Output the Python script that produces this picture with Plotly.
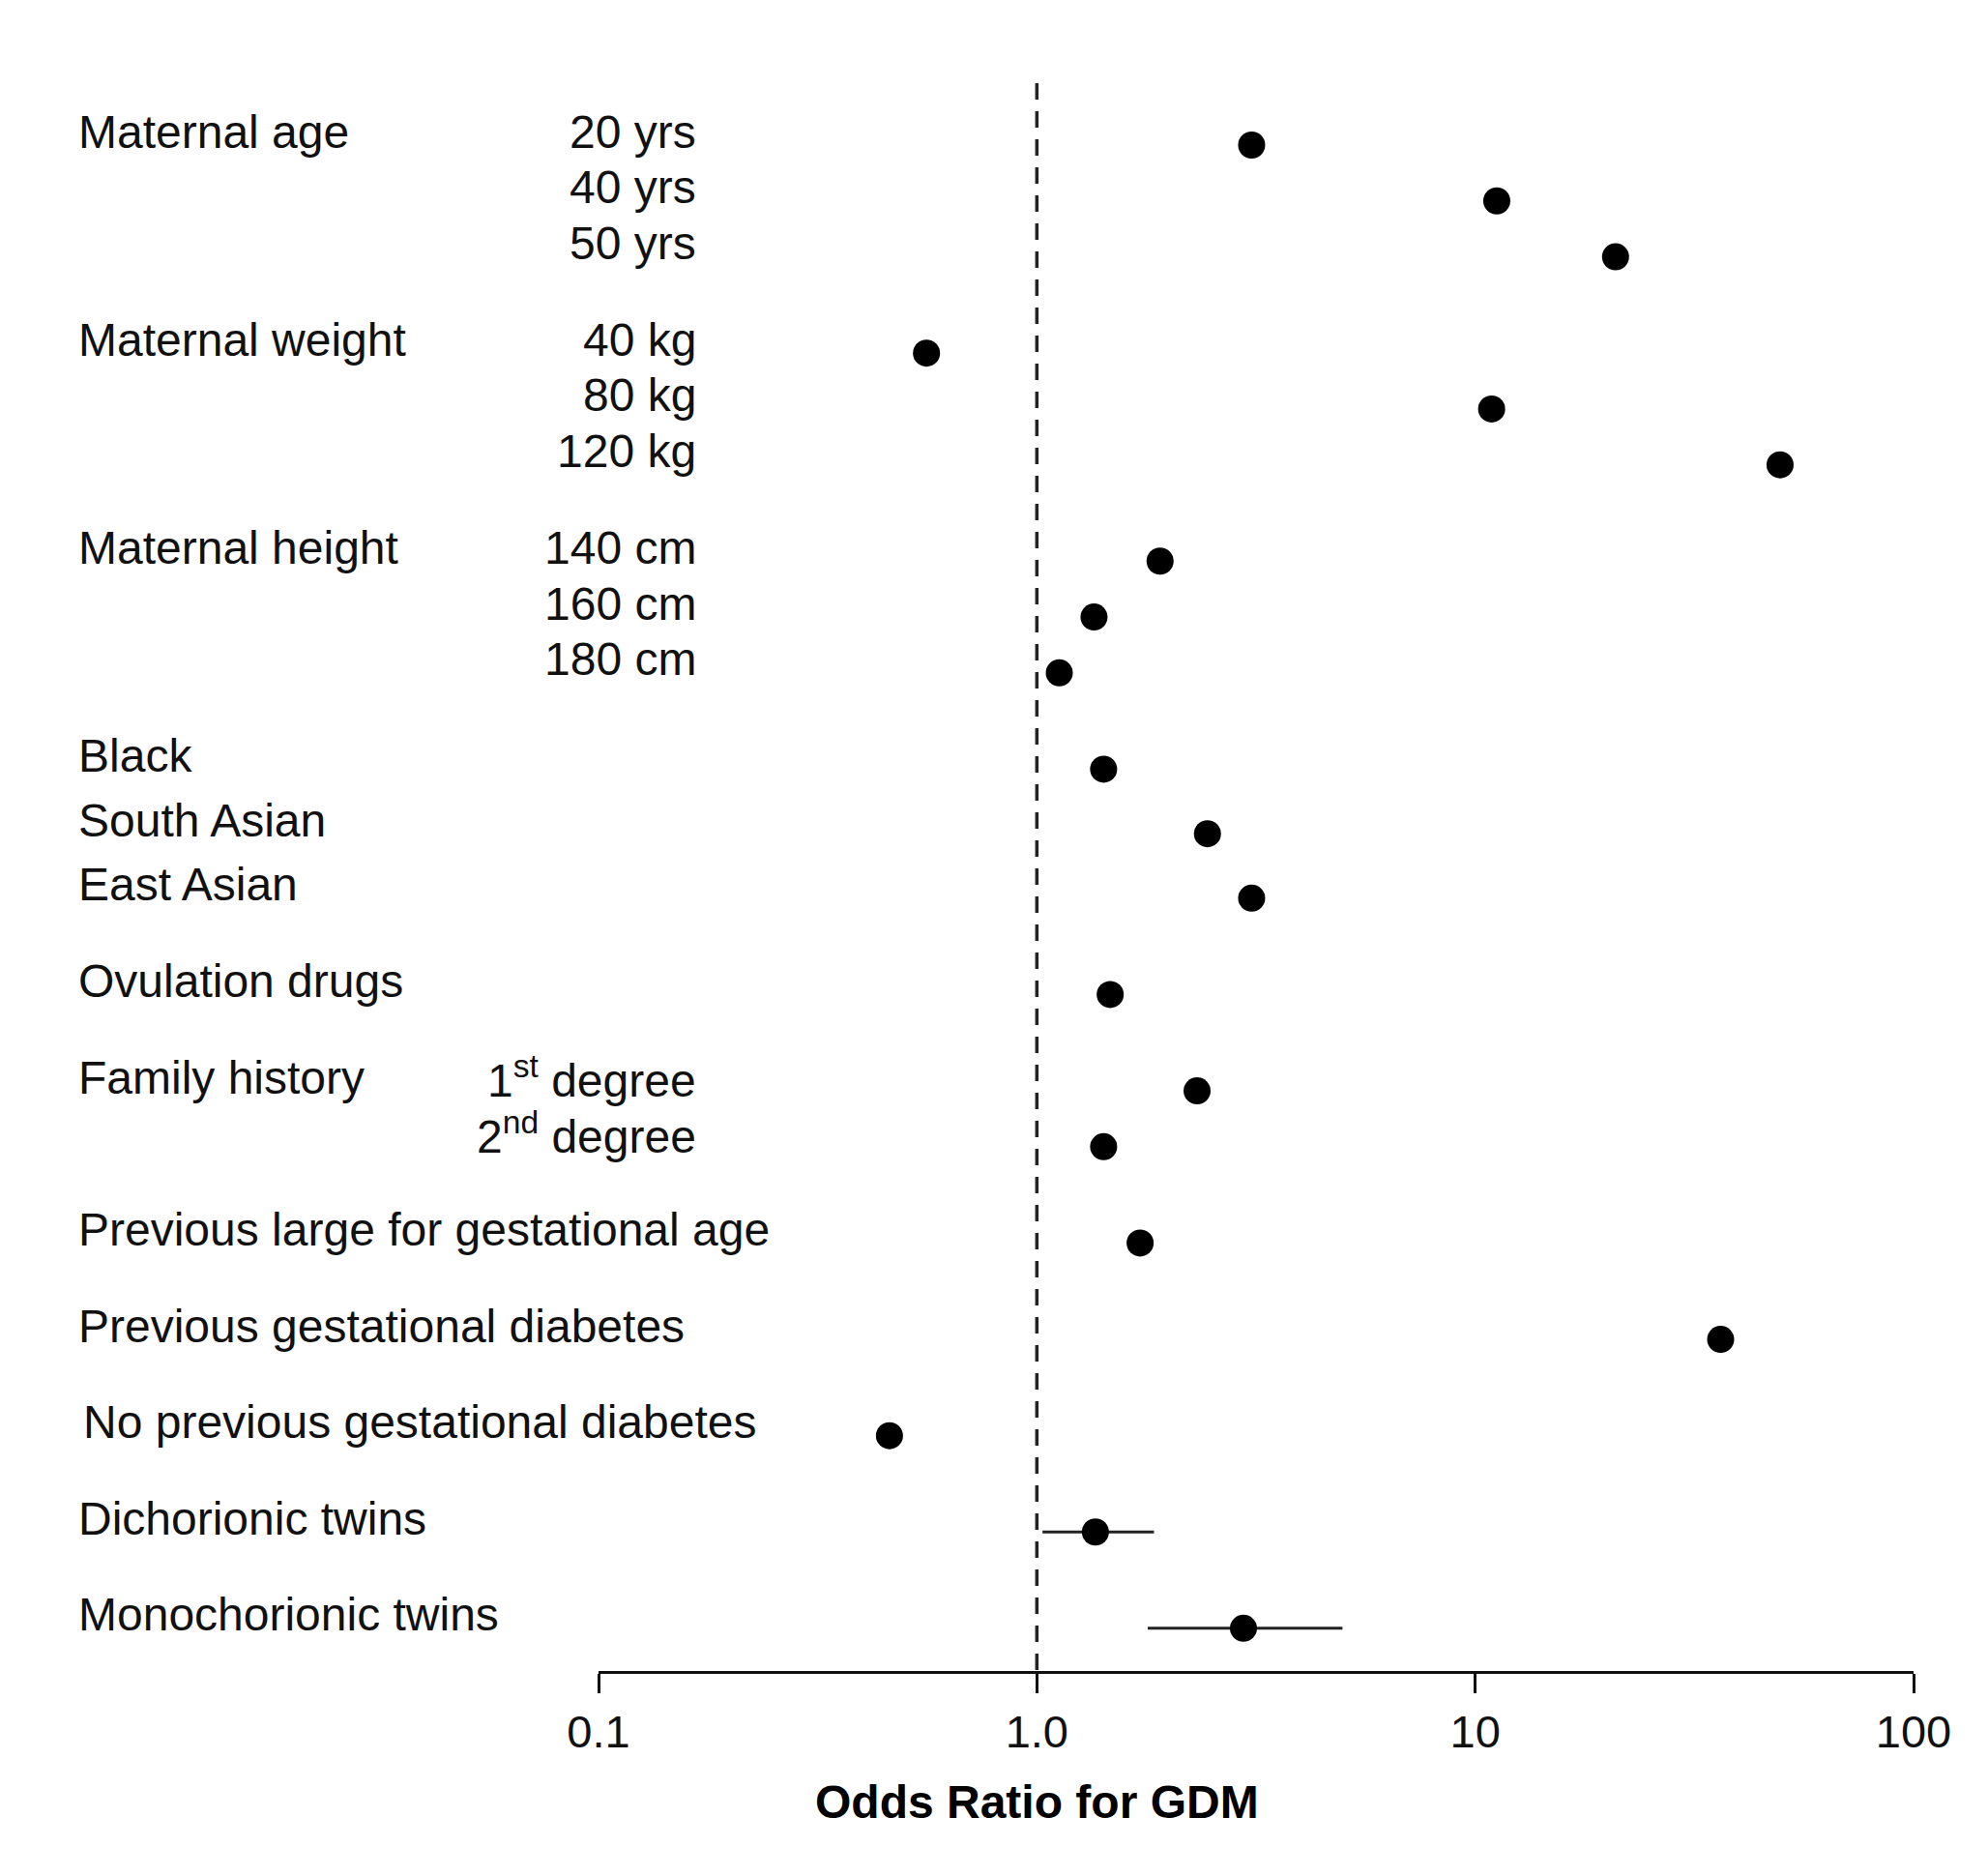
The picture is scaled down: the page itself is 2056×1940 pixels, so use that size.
import plotly.graph_objects as go

# ---------------- DATA ----------------
left_labels = [
    "Maternal age", "", "",
    "Maternal weight", "", "",
    "Maternal height", "", "",
    "Black", "South Asian", "East Asian",
    "Ovulation drugs",
    "Family history", "",
    "Previous large for gestational age",
    "Previous gestational diabetes",
    "No previous gestational diabetes",
    "Dichorionic twins",
    "Monochorionic twins",
]
sub_labels = [
    "20 yrs", "40 yrs", "50 yrs",
    "40 kg", "80 kg", "120 kg",
    "140 cm", "160 cm", "180 cm",
    "", "", "",
    "",
    "1<sup>st</sup> degree", "2<sup>nd</sup> degree",
    "", "", "", "", "",
]
group_id = [0, 0, 0, 1, 1, 1, 2, 2, 2, 3, 3, 3, 4, 5, 5, 6, 7, 8, 9, 10]
odds_ratio = [3.09, 11.2, 20.9,
              0.56, 10.9, 49.6,
              1.91, 1.35, 1.125,
              1.42, 2.45, 3.09,
              1.47,
              2.32, 1.42,
              1.72, 36.3, 0.461,
              1.36, 2.96]
ci_rows = [18, 19]
ci_low = [1.03, 1.79]
ci_high = [1.85, 4.98]

tick_vals = [0.1, 1, 10, 100]
tick_text = ["0.1", "1.0", "10", "100"]
x_title = "<b>Odds Ratio for GDM</b>"

# ---------------- LAYOUT HELPERS ----------------
W, H = 2056, 1940
BODY = 8  # page margin of the html body
PLOT_L, PLOT_R = 619, 1979
PLOT_T, PLOT_B = 86, 1728
FONT = "Liberation Sans, Arial, sans-serif"
INK = "#111111"


def px_to_paper_x(px):
    return (px - PLOT_L) / (PLOT_R - PLOT_L)


def px_to_paper_y(py):
    return (PLOT_B - py) / (PLOT_B - PLOT_T)


# row positions: new group -> 1 unit, rows inside a group closer together
y_pos = []
y = 0.0
for i, g in enumerate(group_id):
    if i > 0:
        if g != group_id[i - 1]:
            y += 1.0
        elif sub_labels[i] == "":
            y += 0.67
        else:
            y += 0.58
    y_pos.append(y)

UNIT = 99.6  # px per row unit
y_top = -(150 - PLOT_T) / UNIT
y_bottom = y_top + (PLOT_B - PLOT_T) / UNIT

fig = go.Figure()

# reference line at OR = 1
fig.add_trace(go.Scatter(
    x=[1, 1], y=[y_top, y_bottom],
    mode="lines",
    line=dict(color="#222222", width=3.5, dash="17px,12px"),
    hoverinfo="skip", showlegend=False,
))

# confidence intervals
fig.add_trace(go.Scatter(
    x=[odds_ratio[i] for i in ci_rows],
    y=[y_pos[i] for i in ci_rows],
    mode="markers",
    marker=dict(size=0.1, color=INK),
    error_x=dict(
        type="data", symmetric=False,
        array=[h - odds_ratio[i] for h, i in zip(ci_high, ci_rows)],
        arrayminus=[odds_ratio[i] - l for l, i in zip(ci_low, ci_rows)],
        width=0, thickness=3, color="#222222",
    ),
    hoverinfo="skip", showlegend=False,
))

# point estimates
fig.add_trace(go.Scatter(
    x=odds_ratio, y=y_pos,
    mode="markers",
    marker=dict(size=28, color="black", symbol="circle"),
    showlegend=False,
))

annotations = []
for lab, sub, yy in zip(left_labels, sub_labels, y_pos):
    if lab:
        x_left = 84 if lab.startswith("No ") else 79
        annotations.append(dict(
            text=lab, xref="paper", yref="y",
            x=px_to_paper_x(x_left), y=yy, yshift=14,
            xanchor="left", yanchor="middle", showarrow=False,
            font=dict(family=FONT, size=48, color=INK),
        ))
    if sub:
        annotations.append(dict(
            text=sub, xref="paper", yref="y",
            x=px_to_paper_x(722), y=yy, yshift=14,
            xanchor="right", yanchor="middle", showarrow=False,
            font=dict(family=FONT, size=48, color=INK),
        ))

annotations.append(dict(
    text=x_title, xref="x", yref="paper",
    x=0, y=px_to_paper_y(1863),
    xanchor="center", yanchor="middle", showarrow=False,
    font=dict(family=FONT, size=48, color="black"),
))

fig.update_layout(
    width=W, height=H,
    margin=dict(l=PLOT_L - BODY, r=W - PLOT_R + BODY,
                t=PLOT_T - BODY, b=H - PLOT_B + BODY),
    paper_bgcolor="white", plot_bgcolor="white",
    annotations=annotations,
    xaxis=dict(
        type="log", range=[-1, 2],
        tickvals=tick_vals, ticktext=tick_text,
        showline=True, linecolor="#111111", linewidth=3,
        ticks="outside", ticklen=20, tickwidth=3, tickcolor="#111111",
        showgrid=False, zeroline=False,
        tickfont=dict(family=FONT, size=47, color=INK),
    ),
    yaxis=dict(
        range=[y_bottom, y_top],
        visible=False, showgrid=False, zeroline=False,
    ),
)

fig.write_html("out.html")
